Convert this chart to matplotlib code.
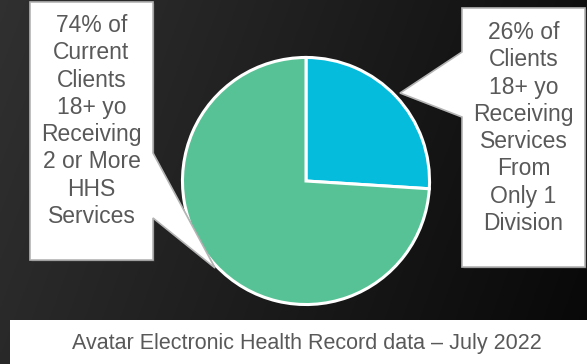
import numpy as np
import matplotlib
matplotlib.use("Agg")
import matplotlib.pyplot as plt
from matplotlib.patches import Polygon, Rectangle

plt.rcParams['font.family'] = ['Liberation Sans', 'DejaVu Sans']

# data
labels = ["Only 1 Division", "2 or More HHS Services"]
shares = [26, 74]
colors = ["#05BCDC", "#57C295"]
left_note = "74% of\nCurrent\nClients\n18+ yo\nReceiving\n2 or More\nHHS\nServices"
right_note = "26% of\nClients\n18+ yo\nReceiving\nServices\nFrom\nOnly 1\nDivision"
source_note = "Avatar Electronic Health Record data \u2013 July 2022"

W, H = 587, 364
fig = plt.figure(figsize=(W / 100, H / 100), dpi=100)

# dark gradient background
bg = fig.add_axes([0, 0, 1, 1])
gx, gy = np.meshgrid(np.linspace(0, 1, 300), np.linspace(0, 1, 200))
g = 0.19 - 0.13 * gx - 0.03 * gy
bg.imshow(np.dstack([g, g, g]), extent=[0, W, H, 0], aspect='auto')
bg.set_xlim(0, W)
bg.set_ylim(H, 0)
bg.axis('off')

# pie
cx, cy, r = 306, 181, 126
pax = fig.add_axes([(cx - r) / W, (H - cy - r) / H, 2 * r / W, 2 * r / H])
pax.pie(shares, colors=colors, startangle=90, counterclock=False,
        wedgeprops=dict(edgecolor='white', linewidth=2.2))
pax.set_xlim(-1.02, 1.02)
pax.set_ylim(-1.02, 1.02)
pax.axis('off')

# overlay in pixel coordinates
ov = fig.add_axes([0, 0, 1, 1])
ov.set_xlim(0, W)
ov.set_ylim(H, 0)
ov.axis('off')


def callout(pts, text, tx, ty):
    sh = [(x + 1.5, y + 1.5) for x, y in pts]
    ov.add_patch(Polygon(sh, closed=True, facecolor='#5a5a5a', edgecolor='none', alpha=0.5))
    ov.add_patch(Polygon(pts, closed=True, facecolor='white', edgecolor='#b4b4b4', linewidth=1.2))
    ov.text(tx, ty, text, ha='center', va='center', fontsize=16.5, color='#595959',
            linespacing=1.24)


callout([(30, 2), (153, 2), (153, 153), (215, 268), (153, 218), (153, 260), (30, 260)],
        left_note, 91.5, 121)
callout([(462, 8), (585, 8), (585, 267), (462, 267), (462, 117), (400, 93), (462, 52)],
        right_note, 523.5, 128)

ov.add_patch(Rectangle((10, 320), W - 10, 50, facecolor='white', edgecolor='none'))
ov.text(306.5, 343, source_note, ha='center', va='center', fontsize=15.5, color='#595959')

fig.savefig("out.png", dpi=100)
